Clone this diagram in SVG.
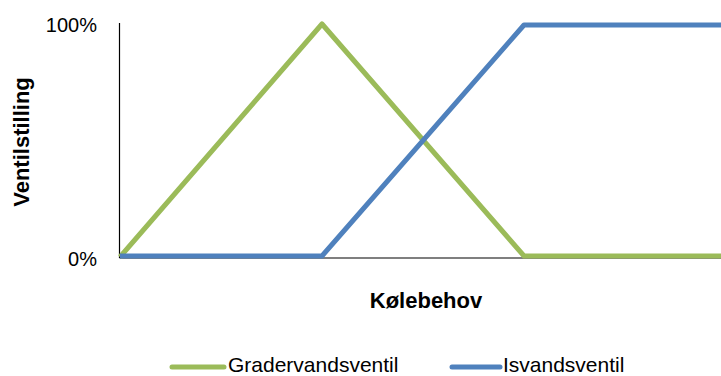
<svg xmlns="http://www.w3.org/2000/svg" width="721" height="376" viewBox="0 0 721 376">
<style>
.ax{stroke:#000;stroke-width:1.2;fill:none}
.s{fill:none;stroke-width:5;stroke-linejoin:round}
.g{stroke:#9BBB59}
.b{stroke:#4F81BD}
.lg{stroke-width:5;stroke-linecap:round}
.t{font-family:"Liberation Sans",Arial,sans-serif;font-size:20px;fill:#000}
.bold{font-weight:bold;font-size:22px}
.leg{font-size:21px}
</style>
<rect width="721" height="376" fill="#fff"/>
<g id="axes">
<line class="ax" x1="119.5" y1="23" x2="119.5" y2="258"/>
<line class="ax" x1="119.5" y1="258" x2="721" y2="258"/>
<text class="t" x="97" y="32" text-anchor="end">100%</text>
<text class="t" x="97" y="266" text-anchor="end">0%</text>
<text class="t bold" x="426" y="308" text-anchor="middle">Kølebehov</text>
<text class="t bold" transform="translate(29,142) rotate(-90)" text-anchor="middle">Ventilstilling</text>
</g>
<g id="connectors">
<polyline id="gradervandsventil" class="s g" points="120,257 322,24 524,256 721,256"/>
<polyline id="isvandsventil" class="s b" points="120,256 322,256 524,25 721,25"/>
</g>
<g id="legend">
<line class="lg g" x1="172" y1="367" x2="224" y2="367"/>
<text class="t leg" x="228" y="372">Gradervandsventil</text>
<line class="lg b" x1="452" y1="367" x2="500" y2="367"/>
<text class="t leg" x="503" y="372">Isvandsventil</text>
</g>
</svg>
